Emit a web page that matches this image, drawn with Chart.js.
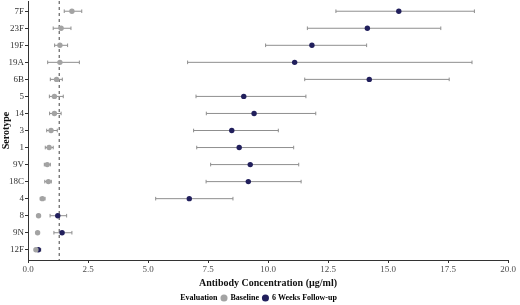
<!DOCTYPE html>
<html>
<head>
<meta charset="utf-8">
<script src="https://cdn.jsdelivr.net/npm/chart.js@4/dist/chart.umd.min.js"></script>
<style>
  body { margin: 0; background: #fff; overflow: hidden; }
  #wrap { width: 520px; height: 308px; margin-top: -3px; position: relative; }
</style>
</head>
<body>
<div id="wrap"><canvas id="chart_serotype"></canvas></div>
<script>
// serotypes top to bottom
var serotypes = ['7F', '23F', '19F', '19A', '6B', '5', '14', '3', '1', '9V', '18C', '4', '8', '9N', '12F'];

// baseline GMC and 95% CI
var baseMean = [1.83, 1.38, 1.33, 1.33, 1.19, 1.10, 1.10, 0.96, 0.88, 0.80, 0.85, 0.60, 0.44, 0.40, 0.33];
var baseLow  = [1.51, 1.05, 1.11, 0.82, 0.93, 0.89, 0.90, 0.78, 0.72, 0.68, 0.70, 0.51, 0.42, 0.38, 0.31];
var baseHigh = [2.24, 1.79, 1.65, 2.14, 1.43, 1.47, 1.38, 1.22, 1.05, 0.93, 0.97, 0.71, 0.47, 0.43, 0.36];

// 6 weeks follow-up GMC and 95% CI
var fupMean = [15.45, 14.14, 11.83, 11.11, 14.22, 8.99, 9.42, 8.49, 8.80, 9.26, 9.18, 6.72, 1.24, 1.42, 0.43];
var fupLow  = [12.83, 11.64, 9.90, 6.65, 11.53, 7.00, 7.43, 6.90, 7.03, 7.61, 7.42, 5.32, 0.92, 1.08, 0.29];
var fupHigh = [18.60, 17.20, 14.11, 18.50, 17.55, 11.58, 11.99, 10.43, 11.07, 11.28, 11.38, 8.54, 1.61, 1.83, 0.53];

var xTicks = [0, 2.5, 5, 7.5, 10, 12.5, 15, 17.5, 20];
var threshold = 1.3;

var grey = '#a3a3a3';
var navy = '#211f5c';
var whiskerColor = '#8f8f8f';

function points(mean, low, high) {
    return mean.map(function(m, i) {
        return { x: m, y: i, lo: low[i], hi: high[i] };
    });
}

Chart.defaults.font.family = "'Liberation Serif', 'DejaVu Serif', serif";

var chart_serotype = new Chart(document.getElementById('chart_serotype'), {
    type: 'scatter',
    data: {
        datasets: [
            {
                label: 'Baseline',
                data: points(baseMean, baseLow, baseHigh),
                backgroundColor: grey,
                borderColor: grey,
                pointRadius: 2.7,
                pointBorderWidth: 0
            },
            {
                label: '6 Weeks Follow-up',
                data: points(fupMean, fupLow, fupHigh),
                backgroundColor: navy,
                borderColor: navy,
                pointRadius: 2.7,
                pointBorderWidth: 0
            }
        ]
    },
    options: {
        animation: false,
        responsive: true,
        maintainAspectRatio: false,
        layout: { padding: { top: 0, right: 12, bottom: -7, left: 0 } },
        plugins: {
            tooltip: { enabled: false },
            legend: {
                position: 'bottom',
                onClick: null,
                labels: {
                    usePointStyle: true,
                    boxWidth: 5,
                    boxHeight: 5,
                    padding: 4,
                    color: '#222',
                    font: { size: 8, weight: 'bold' },
                    generateLabels: function(chart) {
                        var items = [{
                            text: 'Evaluation',
                            fillStyle: 'rgba(0,0,0,0)',
                            strokeStyle: 'rgba(0,0,0,0)',
                            lineWidth: 0,
                            pointStyle: 'circle',
                            datasetIndex: -1
                        }];
                        chart.data.datasets.forEach(function(ds, i) {
                            items.push({
                                text: ds.label,
                                fillStyle: ds.backgroundColor,
                                strokeStyle: ds.backgroundColor,
                                lineWidth: 0,
                                pointStyle: 'circle',
                                datasetIndex: i
                            });
                        });
                        return items;
                    }
                }
            }
        },
        scales: {
            x: {
                type: 'linear',
                min: 0,
                max: 20,
                afterBuildTicks: function(scale) {
                    scale.ticks = xTicks.map(function(v) { return { value: v }; });
                },
                afterFit: function(scale) { scale.height = 30; },
                ticks: {
                    color: '#4d4d4d',
                    font: { size: 9 },
                    padding: 1,
                    maxRotation: 0,
                    callback: function(value) { return Number(value).toFixed(1); }
                },
                grid: { drawOnChartArea: false, drawTicks: true, tickLength: 3, color: '#333' },
                border: { display: true, color: '#333', width: 1 },
                title: {
                    display: true,
                    text: 'Antibody Concentration (µg/ml)',
                    color: '#111',
                    font: { size: 10, weight: 'bold' },
                    padding: { top: 2, bottom: 1 }
                }
            },
            y: {
                type: 'linear',
                reverse: true,
                min: -0.6,
                max: serotypes.length - 0.4,
                afterBuildTicks: function(scale) {
                    scale.ticks = serotypes.map(function(s, i) { return { value: i }; });
                },
                afterFit: function(scale) {
                    scale.width = 28;
                    scale.paddingTop = 0;
                    scale.paddingBottom = 0;
                },
                ticks: {
                    color: '#333',
                    font: { size: 9 },
                    padding: 1,
                    callback: function(value) { return serotypes[value]; }
                },
                grid: { drawOnChartArea: false, drawTicks: true, tickLength: 3, color: '#333' },
                border: { display: true, color: '#333', width: 1 },
                title: {
                    display: true,
                    text: 'Serotype',
                    color: '#111',
                    font: { size: 10, weight: 'bold' },
                    padding: 0
                }
            }
        }
    },
    plugins: [{
        id: 'whiskers',
        beforeDatasetsDraw: function(chart) {
            var ctx = chart.ctx;
            var xs = chart.scales.x;
            var ys = chart.scales.y;
            var area = chart.chartArea;
            ctx.save();
            // reference line
            ctx.strokeStyle = '#444';
            ctx.lineWidth = 1;
            ctx.setLineDash([3, 3]);
            var tx = xs.getPixelForValue(threshold);
            ctx.beginPath();
            ctx.moveTo(tx, area.top);
            ctx.lineTo(tx, area.bottom);
            ctx.stroke();
            ctx.setLineDash([]);
            // confidence interval whiskers
            ctx.strokeStyle = whiskerColor;
            ctx.lineWidth = 1;
            chart.data.datasets.forEach(function(ds) {
                ds.data.forEach(function(p) {
                    var y = ys.getPixelForValue(p.y);
                    var x1 = xs.getPixelForValue(p.lo);
                    var x2 = xs.getPixelForValue(p.hi);
                    ctx.beginPath();
                    ctx.moveTo(x1, y);
                    ctx.lineTo(x2, y);
                    ctx.moveTo(x1, y - 1.8);
                    ctx.lineTo(x1, y + 1.8);
                    ctx.moveTo(x2, y - 1.8);
                    ctx.lineTo(x2, y + 1.8);
                    ctx.stroke();
                });
            });
            ctx.restore();
        }
    }, {
        id: 'whiteBackground',
        beforeDraw: function(chart) {
            var ctx = chart.canvas.getContext('2d');
            ctx.save();
            ctx.globalCompositeOperation = 'destination-over';
            ctx.fillStyle = 'white';
            ctx.fillRect(0, 0, chart.canvas.width, chart.canvas.height);
            ctx.restore();
        }
    }]
});
</script>
</body>
</html>
